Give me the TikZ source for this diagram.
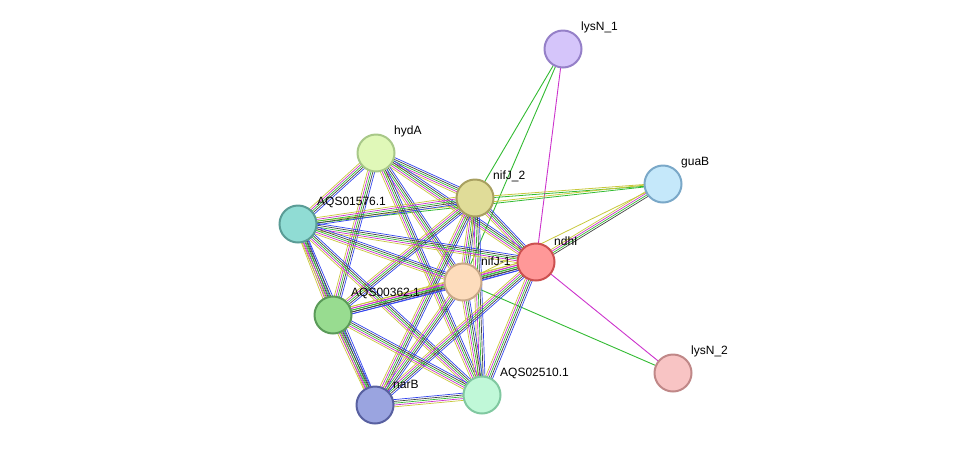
\documentclass[tikz,border=0pt]{standalone}
\usepackage{fontspec}
\setmainfont{Liberation Sans}
\usetikzlibrary{calc}
\definecolor{ey}{HTML}{C8C83C}\definecolor{em}{HTML}{CC33CC}\definecolor{eg}{HTML}{33BB33}
\definecolor{eb}{HTML}{3344EE}\definecolor{ek}{HTML}{444444}
\newcommand\bund[2]{\foreach \c/\o in {ey/-3.6,em/-1.8,eg/0,ek/1.8,eb/3.6}{\draw[\c,line width=0.7pt] ($(#1)!\o pt!90:(#2)$) -- ($(#2)!\o pt!-90:(#1)$);}}
\newcommand\bundc[2]{\foreach \c/\o in {ey/-2.7,em/-0.9,eg/0.9,ek/2.7}{\draw[\c,line width=0.7pt] ($(#1)!\o pt!90:(#2)$) -- ($(#2)!\o pt!-90:(#1)$);}}
\tikzset{nd/.style={circle,minimum size=37pt,inner sep=0,line width=2pt},
lb/.style={anchor=south west,font=\fontsize{12}{12}\selectfont,inner sep=0}}
\begin{document}
\begin{tikzpicture}[x=1pt,y=-1pt]
\useasboundingbox (0,0) rectangle (976,451);
\foreach \n/\x/\y in {a/563/49,b/663/184,c/376/153,d/475/198,e/298/224,f/536/262,g/463/282,h/333/315,i/673/373,j/375/405,k/482/395}{\coordinate (\n) at (\x,\y);}
\draw[eg,line width=0.9pt] (a)--(d); \draw[eg,line width=0.9pt] (a)--(g); \draw[em,line width=0.9pt] (a)--(f);
\draw[em,line width=0.9pt] (i)--(f); \draw[eg,line width=0.9pt] (i)--(g);
\bundc{b}{f}
\foreach \c/\o in {ey/-0.9,eg/0.9}{\draw[\c,line width=0.8pt] ($(b)!\o pt!90:(d)$) -- ($(d)!\o pt!-90:(b)$);}
\foreach \c/\o in {ey/-0.9,eg/0.9}{\draw[\c,line width=0.8pt] ($(b)!\o pt!90:(e)$) -- ($(e)!\o pt!-90:(b)$);}
\draw[ey,line width=0.8pt] (b)--(g);
\foreach \p/\q in {c/d,c/e,c/f,c/g,c/h,c/k,d/e,d/f,d/g,d/h,d/j,d/k,e/f,e/g,e/h,e/j,e/k,f/g,f/h,f/j,f/k,g/h,g/j,g/k,h/j,h/k,j/k}{\bund{\p}{\q}}
\foreach \n/\fc/\bc in {a/D5C5FA/9580C8,b/C5E8FA/7AA8C8,c/E0F8B8/A8C888,d/E0DC98/A8A060,e/90DCD4/5A9C96,f/FF9898/CC5050,g/FDDCBC/C8A888,h/98DC90/5A9A58,i/F8C4C4/C08888,j/9AA4E0/5860A0,k/C0F8D8/80C8A0}{
\definecolor{fc}{HTML}{\fc}\definecolor{bc}{HTML}{\bc}
\node[nd,fill=fc,draw=bc] (n\n) at (\n) {};}
\node[lb] (la) at (581,33) {lysN\_1};
\node[lb] (lb) at (681,168) {guaB};
\node[lb] (lc) at (394,137) {hydA};
\node[lb] (ld) at (493,182) {nifJ\_2};
\node[lb] (le) at (317,208) {AQS01576.1};
\node[lb] (lf) at (554,246) {ndhI};
\node[lb] (lg) at (481,266) {nifJ-1};
\node[lb] (lh) at (351,299) {AQS00362.1};
\node[lb] (li) at (691,357) {lysN\_2};
\node[lb] (lj) at (393,389) {narB};
\node[lb] (lk) at (500,379) {AQS02510.1};
\end{tikzpicture}
\end{document}
